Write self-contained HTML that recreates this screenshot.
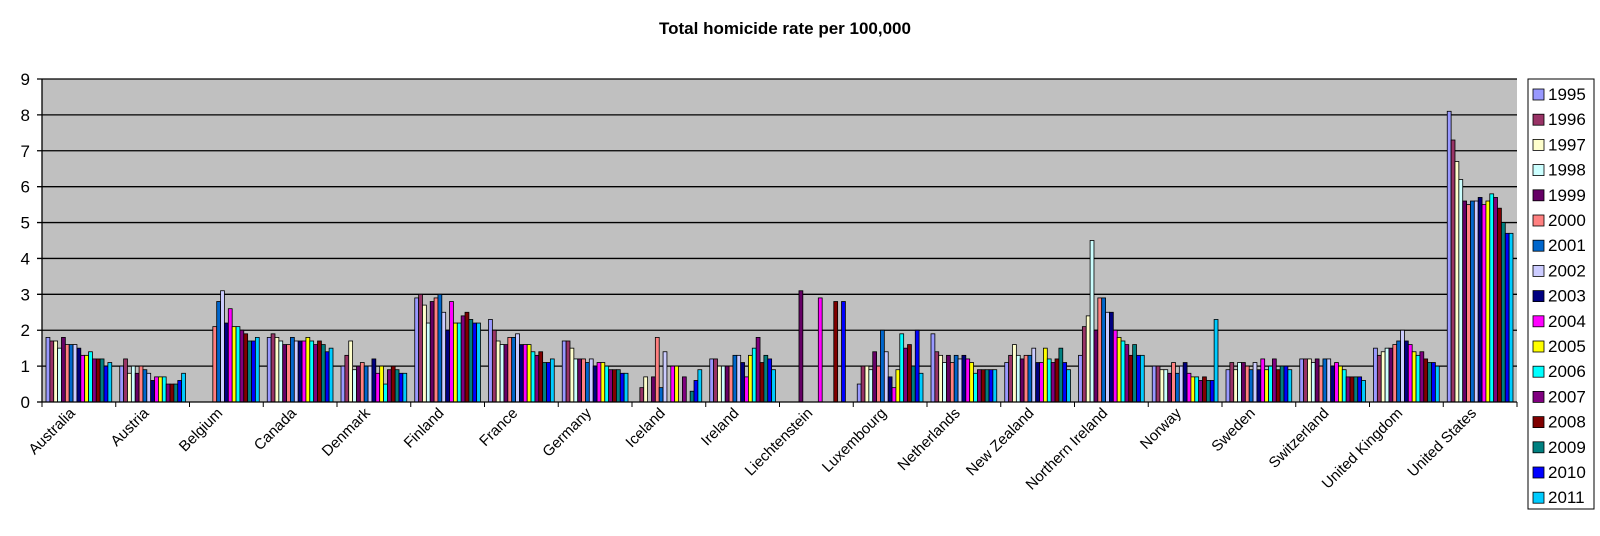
<!DOCTYPE html>
<html><head><meta charset="utf-8">
<style>
html,body{margin:0;padding:0;background:#fff;}
svg{display:block;font-family:"Liberation Sans",Arial,sans-serif;}
</style></head>
<body>
<svg id="chart" width="1600" height="536">
<text x="785" y="34" text-anchor="middle" font-size="17" font-weight="bold">Total homicide rate per 100,000</text>
</svg>
<script>
const countries = ["Australia","Austria","Belgium","Canada","Denmark","Finland","France","Germany","Iceland","Ireland","Liechtenstein","Luxembourg","Netherlands","New Zealand","Northern Ireland","Norway","Sweden","Switzerland","United Kingdom","United States"];
const years = ["1995","1996","1997","1998","1999","2000","2001","2002","2003","2004","2005","2006","2007","2008","2009","2010","2011"];
const colors = ["#9999ff","#993366","#ffffcc","#ccffff","#660066","#ff8080","#0066cc","#ccccff","#000080","#ff00ff","#ffff00","#00ffff","#800080","#800000","#008080","#0000ff","#00ccff"];
const yTicks = [0,1,2,3,4,5,6,7,8,9];
const australia = [1.8,1.7,1.7,1.5,1.8,1.6,1.6,1.6,1.5,1.3,1.3,1.4,1.2,1.2,1.2,1.0,1.1];
const austria = [1.0,1.2,0.8,1.0,0.8,1.0,0.9,0.8,0.6,0.7,0.7,0.7,0.5,0.5,0.5,0.6,0.8];
const belgium = [null,null,null,null,null,2.1,2.8,3.1,2.2,2.6,2.1,2.1,2.0,1.9,1.7,1.7,1.8];
const canada = [1.8,1.9,1.8,1.7,1.6,1.6,1.8,1.7,1.7,1.7,1.8,1.7,1.6,1.7,1.6,1.4,1.5];
const denmark = [1.0,1.3,1.7,0.9,1.0,1.1,1.0,1.0,1.2,0.8,1.0,0.5,0.9,1.0,0.9,0.8,0.8];
const finland = [2.9,3.0,2.7,2.2,2.8,2.9,3.0,2.5,2.0,2.8,2.2,2.2,2.4,2.5,2.3,2.2,2.2];
const france = [2.3,2.0,1.7,1.6,1.6,1.8,1.8,1.9,1.6,1.6,1.6,1.4,1.3,1.4,1.1,1.1,1.2];
const germany = [1.7,1.7,1.5,1.2,1.2,1.2,1.1,1.2,1.0,1.1,1.1,1.0,0.9,0.9,0.9,0.8,0.8];
const iceland = [null,0.4,0.7,null,0.7,1.8,0.4,1.4,null,1.0,1.0,null,0.7,null,0.3,0.6,0.9];
const ireland = [1.2,1.2,1.0,1.0,1.0,1.0,1.3,1.3,1.1,0.7,1.3,1.5,1.8,1.1,1.3,1.2,0.9];
const liechtenstein = [null,null,null,null,3.1,null,null,null,null,2.9,null,null,null,2.8,null,2.8,null];
const luxembourg = [0.5,1.0,1.0,0.9,1.4,1.0,2.0,1.4,0.7,0.4,0.9,1.9,1.5,1.6,1.0,2.0,0.8];
const netherlands = [1.9,1.4,1.3,1.1,1.3,1.1,1.3,1.2,1.3,1.2,1.1,0.8,0.9,0.9,0.9,0.9,0.9];
const newZealand = [1.1,1.3,1.6,1.3,1.2,1.3,1.3,1.5,1.1,1.1,1.5,1.2,1.1,1.2,1.5,1.1,0.9];
const northernIreland = [1.3,2.1,2.4,4.5,2.0,2.9,2.9,2.5,2.5,2.0,1.8,1.7,1.6,1.3,1.6,1.3,1.3];
const norway = [1.0,1.0,0.9,0.9,0.8,1.1,0.8,1.0,1.1,0.8,0.7,0.7,0.6,0.7,0.6,0.6,2.3];
const sweden = [0.9,1.1,0.9,1.1,1.1,1.0,0.9,1.1,0.9,1.2,0.9,1.0,1.2,0.9,1.0,1.0,0.9];
const switzerland = [1.2,1.2,1.2,1.1,1.2,1.0,1.2,1.2,1.0,1.1,1.0,0.9,0.7,0.7,0.7,0.7,0.6];
const unitedKingdom = [1.5,1.3,1.4,1.5,1.5,1.6,1.7,2.0,1.7,1.6,1.4,1.3,1.4,1.2,1.1,1.1,1.0];
const unitedStates = [8.1,7.3,6.7,6.2,5.6,5.5,5.6,5.6,5.7,5.5,5.6,5.8,5.7,5.4,5.0,4.7,4.7];
const series = [australia,austria,belgium,canada,denmark,finland,france,germany,iceland,ireland,liechtenstein,luxembourg,netherlands,newZealand,northernIreland,norway,sweden,switzerland,unitedKingdom,unitedStates];

const NS="http://www.w3.org/2000/svg";
const svg=document.getElementById('chart');
const L=42,R=1517,T=79,B=402,YMAX=9;
const catW=(R-L)/countries.length;
const barW=(catW-8)/years.length;
function y(v){return B-(v/YMAX)*(B-T);}
function xCat(i){return L+i*catW;}
function mk(tag,attrs,parent){const e=document.createElementNS(NS,tag);for(const k in attrs)e.setAttribute(k,attrs[k]);(parent||svg).appendChild(e);return e;}

const bg=mk('rect',{x:L,y:T,width:R-L,height:B-T,fill:'#c0c0c0'});


yTicks.forEach(t=>{
  const g=mk('line',{x1:L-5,x2:t===0?L:R,y1:y(t),y2:y(t),stroke:'#000','stroke-width':1.3});
  
  
  const lb=mk('text',{x:30,y:y(t)+6,'text-anchor':'end','font-size':17});
  lb.textContent=t;
  
  
});
series.forEach((vals,ci)=>{
  vals.forEach((v,yi)=>{
    if(v===null)return;
    const r=mk('rect',{x:xCat(ci)+4+yi*barW,y:y(v),width:barW,height:B-y(v),fill:colors[yi],stroke:'#000','stroke-width':0.8});
    
    
  });
});
mk('line',{x1:L,x2:L,y1:T,y2:B,stroke:'#000','stroke-width':1.3});
mk('line',{x1:L,x2:R,y1:B,y2:B,stroke:'#000','stroke-width':1.3});
for(let i=0;i<=countries.length;i++){
  mk('line',{x1:xCat(i),x2:xCat(i),y1:B,y2:B+5,stroke:'#000'});
}
countries.forEach((c,i)=>{
  const cx=xCat(i)+catW/2-3, cy=B+12;
  const t=mk('text',{x:cx,y:cy,'text-anchor':'end','font-size':15,transform:`rotate(-45 ${cx} ${cy})`});
  t.textContent=c;
  
  
});
const lg=mk('rect',{x:1528,y:79,width:66,height:430,fill:'#fff',stroke:'#000','stroke-width':1});


years.forEach((yr,i)=>{
  const ly=94+i*25.2;
  const s=mk('rect',{x:1533,y:ly-5,width:11,height:11,fill:colors[i],stroke:'#000','stroke-width':0.8});
  
  
  const t=mk('text',{x:1548,y:ly+6,'font-size':17});
  t.textContent=yr;
  
  
});
</script>
</body></html>
